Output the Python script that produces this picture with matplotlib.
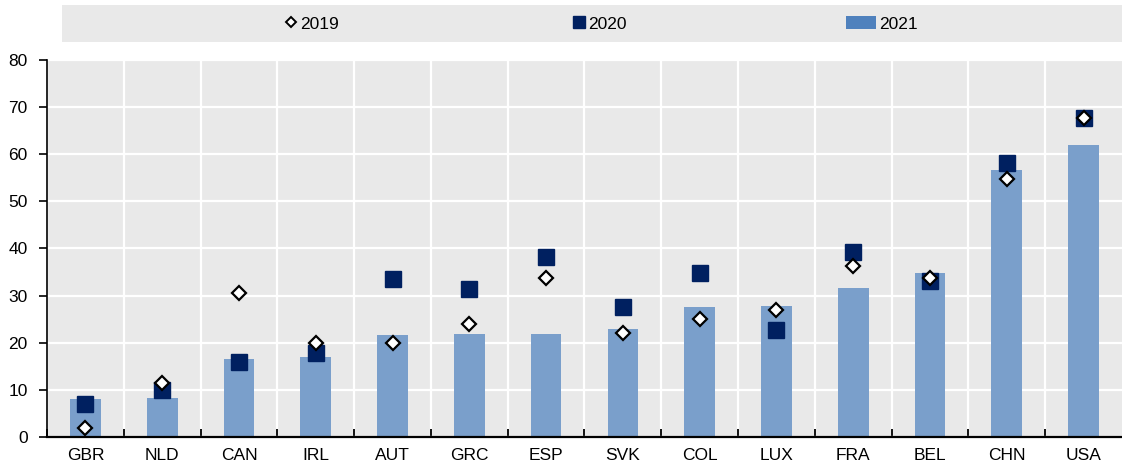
import numpy as np
import matplotlib
matplotlib.use("Agg")
import matplotlib.pyplot as plt
from matplotlib.lines import Line2D
from matplotlib.patches import Patch

plt.rcParams['font.family'] = ['Liberation Sans', 'DejaVu Sans']

# data
countries = ["GBR", "NLD", "CAN", "IRL", "AUT", "GRC", "ESP", "SVK", "COL", "LUX", "FRA", "BEL", "CHN", "USA"]
v2021 = [8.0, 8.3, 16.5, 16.9, 21.6, 21.8, 21.9, 22.9, 27.6, 27.7, 31.6, 34.9, 56.7, 62.0]
v2020 = [7.0, 10.0, 16.0, 17.9, 33.5, 31.3, 38.3, 27.5, 34.9, 22.6, 39.3, 33.0, 58.1, 67.7]
v2019 = [2.0, 11.4, 30.6, 19.9, 19.9, 23.9, 33.8, 22.0, 25.0, 26.9, 36.3, 33.8, 54.7, 67.7]
years = ["2019", "2020", "2021"]

bar_col = "#7A9FCB"
leg_bar_col = "#4F81BD"  # legend swatch is a bit stronger than the bars
sq_col = "#002060"
bg = "#E9E9E9"

fig = plt.figure(figsize=(11.22, 4.66), dpi=100)
ax = fig.add_axes([47/1122, 29/466, 1 - 47/1122, (437-60)/466])
ax.set_facecolor(bg)

x = np.arange(len(countries))
ax.bar(x, v2021, width=0.4, color=bar_col, zorder=2)
ax.plot(x, v2020, ls="none", marker="s", ms=11, color=sq_col, zorder=3)
ax.plot(x, v2019, ls="none", marker="D", ms=7, mfc="white", mec="black", mew=1.6, zorder=4)

ax.set_xlim(-0.5, len(countries) - 0.5)
ax.set_ylim(0, 80)
ax.set_yticks(np.arange(0, 81, 10))
ax.set_xticks(x)
ax.set_xticklabels(countries)
ax.set_xticks(np.arange(len(countries)) - 0.5, minor=True)

ax.grid(True, axis="y", color="white", lw=1.6, zorder=1)
ax.grid(True, axis="x", which="minor", color="white", lw=1.6, zorder=1)
ax.set_axisbelow(True)

for s in ["top", "right"]:
    ax.spines[s].set_visible(False)
ax.spines["left"].set_linewidth(1.2)
ax.spines["bottom"].set_linewidth(1.6)

ax.tick_params(axis="x", which="major", length=0, pad=8, labelsize=12.5)
ax.tick_params(axis="x", which="minor", direction="in", length=6, width=1.3)
ax.tick_params(axis="y", length=6, width=1.2, pad=8, labelsize=12.5)

# legend band
fig.patches.append(plt.Rectangle((62/1122, 1 - 42/466), 1 - 62/1122, 37/466,
                                 transform=fig.transFigure, facecolor=bg, edgecolor="none"))
leg_y = 1 - 24/466
leg_items = [
    (Line2D([], [], ls="none", marker="D", ms=5, mfc="white", mec="black", mew=1.4), 284, 0.8, 0.15),
    (Line2D([], [], ls="none", marker="s", ms=8, color=sq_col), 572, 0.8, 0.15),
    (Patch(facecolor=leg_bar_col), 846, 1.75, 0.18),
]
for (h, px, hl, pad), lab in zip(leg_items, years):
    fig.legend([h], [lab], loc="center left", bbox_to_anchor=(px/1122, leg_y),
               frameon=False, fontsize=12.5, handlelength=hl, handleheight=0.8,
               handletextpad=pad, borderpad=0, borderaxespad=0)

fig.savefig("out.png", dpi=100, facecolor="white")
